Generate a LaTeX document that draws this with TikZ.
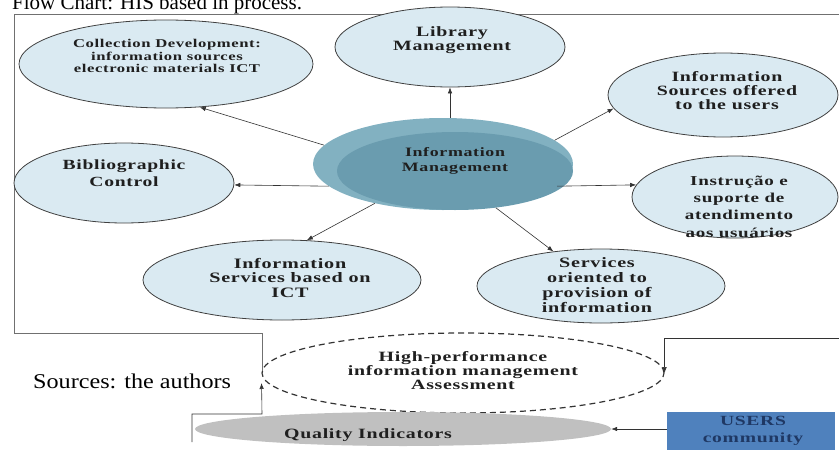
\documentclass[tikz,border=0pt]{standalone}
\usepackage{fontspec}
\setmainfont{Liberation Serif}
\newfontfamily\lblfont[FakeStretch=1.4,LetterSpace=5]{Liberation Serif}
\newfontfamily\titlefont[FakeStretch=1.0]{Liberation Serif}
\newfontfamily\srcfont[FakeStretch=1.15]{Liberation Serif}
\usetikzlibrary{shapes.geometric,arrows.meta}
\definecolor{bubfill}{HTML}{DAEAF2}
\definecolor{imback}{HTML}{82B1C1}
\definecolor{imfront}{HTML}{6A9CAF}
\definecolor{qgray}{HTML}{C0C0C0}
\definecolor{usersblue}{HTML}{4F81BD}
\definecolor{usersink}{HTML}{1F3864}
\definecolor{framegray}{HTML}{707070}
\tikzset{
  bub/.style={ellipse, draw=black!75, line width=0.8pt, fill=bubfill, inner sep=0pt},
  txt/.style={font=\lblfont\bfseries, align=center, text=black!88, inner sep=0pt},
  arr/.style={-{Latex[length=6pt,width=4.5pt]}, line width=0.6pt, draw=black!80},
  framel/.style={line width=0.8pt, draw=framegray},
}
\begin{document}
\begin{tikzpicture}[x=1pt,y=-1pt]
\useasboundingbox (0,0) rectangle (839,450);
% title (cropped at top, as in the reference)
\node[anchor=base west, inner sep=0pt, font=\titlefont\fontsize{21}{24}\selectfont] (title) at (12,9) {Flow Chart: HIS based in process.};
% frame
\draw[framel] (845,14) -- (14,14) -- (14,333) -- (262,333) -- (262,373);
% bubbles
\node[bub, minimum width=294pt, minimum height=88pt] (coll) at (166,64) {};
\node[bub, minimum width=230pt, minimum height=80pt] (lib) at (450,47) {};
\node[bub, minimum width=230pt, minimum height=84pt] (src) at (723,95) {};
\node[bub, minimum width=220pt, minimum height=80pt] (bib) at (124,183) {};
\node[bub, minimum width=206pt, minimum height=82pt] (instr) at (735,197) {};
\node[bub, minimum width=278pt, minimum height=80pt] (ict) at (282,280) {};
\node[bub, minimum width=248pt, minimum height=74pt] (so) at (601,286) {};
% central ellipse (3D look)
\node[ellipse, fill=imback, inner sep=0pt, minimum width=260pt, minimum height=92pt] (im) at (443,164) {};
\node[ellipse, fill=imfront, inner sep=0pt, minimum width=236pt, minimum height=78pt] (imf) at (455,171) {};
% texts
\node[txt, font=\lblfont\bfseries\fontsize{11.9}{12.5}\selectfont] (tcoll) at (167,56) {Collection Development:\\information sources\\electronic materials ICT};
\node[txt, font=\lblfont\bfseries\fontsize{14.2}{14}\selectfont] (tlib) at (452,40) {Library\\Management};
\node[txt, font=\lblfont\bfseries\fontsize{14.2}{14}\selectfont] (tsrc) at (727,91) {Information\\Sources offered\\to the users};
\node[txt, font=\lblfont\bfseries\fontsize{12.8}{15}\selectfont] (tim) at (455,160.5) {Information\\Management};
\node[txt, font=\lblfont\bfseries\fontsize{14}{17}\selectfont] (tbib) at (124,173.5) {Bibliographic\\Control};
\node[txt, font=\lblfont\bfseries\fontsize{13.6}{17.3}\selectfont] (tinstr) at (739,206.5) {Instrução e\\suporte de\\atendimento\\aos usuários};
\node[txt, font=\lblfont\bfseries\fontsize{14.4}{14.5}\selectfont] (tict) at (290,277.7) {Information\\Services based on\\ICT};
\node[txt, font=\lblfont\bfseries\fontsize{14.4}{15}\selectfont] (tso) at (597,285.5) {Services\\oriented to\\provision of\\information};
% arrows from central ellipse
\draw[arr] (lib.south |- im.north) -- (lib.south);
\draw[arr] (im.171) -- (coll.-52);
\draw[arr] (im.12) -- (src.187);
\draw[arr] (im.191) -- (bib.-1);
\draw[arr] (im.-11) -- (instr.173);
\draw[arr] (im.210) -- (ict.58);
\draw[arr] (imf.-42) -- (so.144);
% assessment
\node[ellipse, draw=black!80, dashed, dash pattern=on 6pt off 4pt, line width=1.2pt, inner sep=0pt, minimum width=402pt, minimum height=80pt] (hp) at (463,373) {};
\node[txt, font=\lblfont\bfseries\fontsize{14.2}{14}\selectfont] (thp) at (463,371) {High-performance\\information management\\Assessment};
% quality indicators
\node[ellipse, fill=qgray, inner sep=0pt, minimum width=416pt, minimum height=34pt] (qi) at (403,429) {};
\node[txt, font=\lblfont\bfseries\fontsize{14.2}{14}\selectfont] (tqi) at (368,435) {Quality Indicators};
% users box
\node[rectangle, fill=usersblue, inner sep=0pt, minimum width=168pt, minimum height=46pt] (users) at (751,435) {};
\node[txt, text=usersink, font=\lblfont\bfseries\fontsize{14}{17}\selectfont] (tusers) at (753,431) {USERS\\community};
% sources note
\node[anchor=west, inner sep=0pt, font=\srcfont\fontsize{21}{24}\selectfont] (srcnote) at (33,381) {Sources: the authors};
% feedback connectors
\coordinate (ql) at (192,442);
\coordinate (qc) at (262,414);
\coordinate (rt) at (845,338);
\draw[arr, shorten >=10pt] (ql) |- (qc) -- (hp.west);
\draw[arr] (rt) -| (hp.east);
\draw[arr] (users.west |- qi.east) -- (qi.east);
\end{tikzpicture}
\end{document}
